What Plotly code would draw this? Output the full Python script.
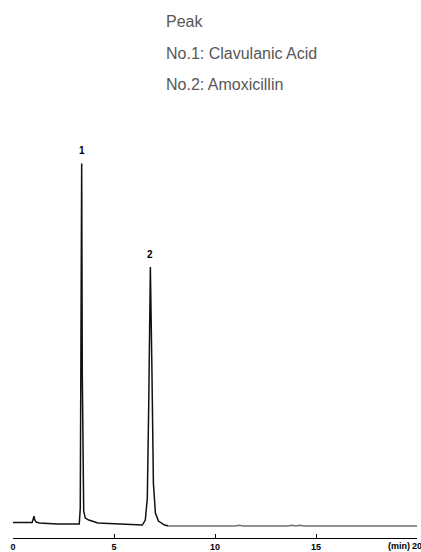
import plotly.graph_objects as go

# Retention time (min) and detector response (arbitrary units) of the chromatogram
time_early = [0.0, 0.5, 0.95, 1.0, 1.04, 1.08, 1.15, 1.3, 1.6, 2.2, 2.8, 3.2, 3.28,
              3.33, 3.37, 3.40, 3.43, 3.46, 3.50, 3.58, 3.75, 4.2, 5.0, 5.8, 6.4,
              6.55, 6.65, 6.72, 6.80, 6.88, 6.95, 7.05, 7.20, 7.50, 7.70]
signal_early = [0.5, 0.5, 0.5, 4, 7, 3, 1, 0, -0.5, -1, -1, -1, -1,
                15, 150, 361, 150, 40, 12, 5, 3, 0, -1, -1.5, -2,
                3, 25, 120, 257, 150, 40, 10, 2, -2, -3]

time_late = [7.70, 9.0, 11.0, 11.2, 11.4, 13.6, 13.8, 14.0, 14.2, 14.4, 16.0, 18.0, 20.0]
signal_late = [-3, -3, -3, -2.2, -3, -3, -2.2, -3, -2.2, -3, -3, -3, -3]

# Peak numbering
peak_ids = ["1", "2"]
peak_times = [3.40, 6.80]
peak_heights = [361, 257]

# Peak identification list
legend_lines = ["Peak", "No.1: Clavulanic Acid", "No.2: Amoxicillin"]

tick_vals = [0, 5, 10, 15]
tick_text = ["0", "5", "10", "15"]
end_tick = 20

FONT = "Arial, Liberation Sans, Helvetica, sans-serif"

fig = go.Figure()
fig.add_trace(go.Scatter(x=time_early, y=signal_early, mode="lines",
                         line=dict(color="#111111", width=1.5), hoverinfo="skip"))
fig.add_trace(go.Scatter(x=time_late, y=signal_late, mode="lines",
                         line=dict(color="#707070", width=1.5), hoverinfo="skip"))

annotations = []
for pid, t, h in zip(peak_ids, peak_times, peak_heights):
    annotations.append(dict(x=t, y=h, xref="x", yref="y", text=f"<b>{pid}</b>", showarrow=False,
                            yanchor="bottom", yshift=5,
                            font=dict(family=FONT, size=10, color="#000000")))
for i, line in enumerate(legend_lines):
    annotations.append(dict(x=164, y=22 + 31.5 * i, xref="paper", yref="paper", text=line,
                            showarrow=False, xanchor="left", yanchor="middle",
                            font=dict(family=FONT, size=16, color="#575757")))
annotations.append(dict(x=end_tick, y=0, xref="x", yref="paper", text=f"<b>{end_tick}</b>",
                        showarrow=False, xanchor="center", yanchor="top", yshift=-1,
                        font=dict(family=FONT, size=9, color="#000000")))
annotations.append(dict(x=end_tick, y=0, xref="x", yref="paper", text="<b>(min)</b>",
                        showarrow=False, xanchor="right", yanchor="top", xshift=-5, yshift=-1,
                        font=dict(family=FONT, size=9, color="#000000")))

# convert pixel positions of the header list into paper coordinates
H, W = 552, 421
ML, MR, MT, MB = 13, 4, 0, 12
pw, ph = W - ML - MR, H - MT - MB
for a in annotations:
    if a["xref"] == "paper" and a["yref"] == "paper":
        a["x"] = (a["x"] - ML) / pw
        a["y"] = 1 - (a["y"] - MT) / ph

fig.update_layout(
    width=W, height=H,
    margin=dict(l=ML, r=MR, t=MT, b=MB),
    plot_bgcolor="white", paper_bgcolor="white",
    showlegend=False,
    annotations=annotations,
    xaxis=dict(range=[0, 20], tickvals=tick_vals + [end_tick],
               ticktext=[f"<b>{t}</b>" for t in tick_text] + [""],
               ticks="inside", ticklen=4, tickcolor="#000000", tickwidth=1,
               showline=True, linecolor="#000000", linewidth=1,
               showgrid=False, zeroline=False,
               tickfont=dict(family=FONT, size=9, color="#000000")),
    yaxis=dict(range=[-15, 525], visible=False, showgrid=False, zeroline=False),
)

fig.write_html("out.html")
